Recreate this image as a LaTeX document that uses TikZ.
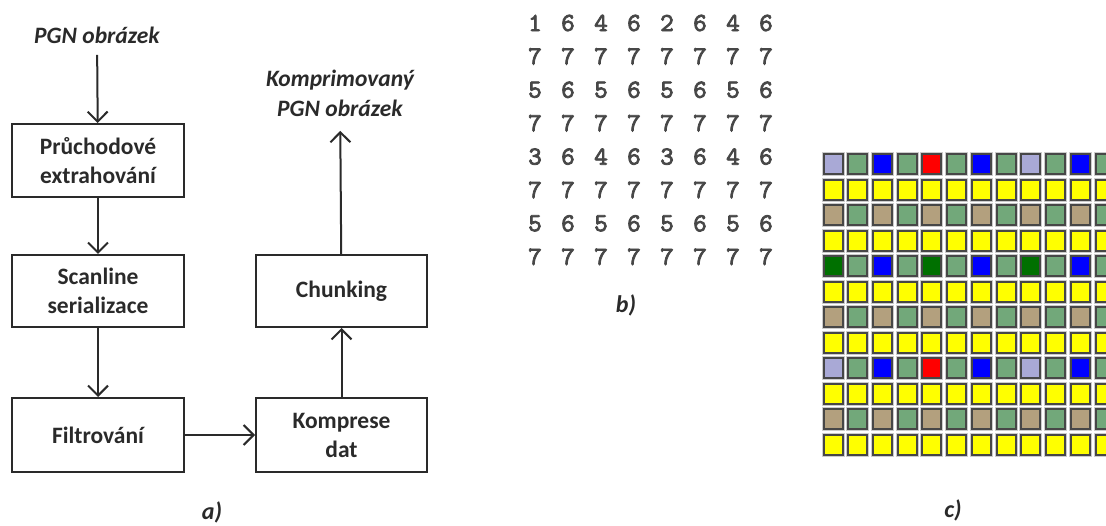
\documentclass[tikz,border=0pt]{standalone}
\usepackage{fontspec}
\setmainfont{Carlito}
\newfontfamily\digitfont[FakeBold=3]{lmmono10-regular.otf}
\usetikzlibrary{arrows.meta}

% palette of the pixel grid, indexed by the pixel value
\definecolor{c1}{HTML}{A9A9D6}
\definecolor{c2}{HTML}{FF0000}
\definecolor{c3}{HTML}{007000}
\definecolor{c4}{HTML}{0000FF}
\definecolor{c5}{HTML}{B3A07E}
\definecolor{c6}{HTML}{72A87A}
\definecolor{c7}{HTML}{FFFF00}
\definecolor{ink}{HTML}{2A2A2A}

\begin{document}
\begin{tikzpicture}[x=1pt,y=-1pt,
  stepbox/.style={draw=ink, line width=2pt, minimum width=172pt, align=center,
    font=\fontsize{23.5}{29}\selectfont\bfseries, text=ink},
  caption/.style={align=center, font=\fontsize{23.5}{30}\selectfont\bfseries\itshape, text=ink},
  flow/.style={draw=ink, line width=2pt,
    -{Straight Barb[length=10pt,width=20pt,line width=2pt]}},
  digit/.style={font=\digitfont\fontsize{26}{26}\selectfont, text=black!72, inner sep=0pt},
  cell/.style={draw=black!72, line width=2pt, minimum width=19pt, minimum height=20pt,
    inner sep=0pt, preaction={draw=black!20, line width=4pt}},
  sublabel/.style={font=\fontsize{24}{24}\selectfont\bfseries\itshape, text=ink}
]
\useasboundingbox (0,0) rectangle (1106,526);
\clip (0,0) rectangle (1106,526);

% ---- a) processing pipeline ----
\node[caption] (src) at (97,35) {PGN obrázek};
\node[stepbox, minimum height=73pt] (b1) at (98,160.5) {Průchodové\\extrahování};
\node[stepbox, minimum height=72pt] (b2) at (98,291) {Scanline\\serializace};
\node[stepbox, minimum height=74pt] (b3) at (98,435) {Filtrování};
\node[stepbox, minimum width=171pt, minimum height=74pt] (b4) at (341.5,435) {Komprese\\dat};
\node[stepbox, minimum width=171pt, minimum height=72pt] (b5) at (341.5,291) {Chunking};
\node[caption] (dst) at (340,93) {Komprimovaný\\PGN obrázek};

\draw[flow, shorten <=8pt] (src) -- (b1);
\draw[flow] (b1) -- (b2);
\draw[flow] (b2) -- (b3);
\draw[flow] (b3) -- (b4);
\draw[flow] (b4) -- (b5);
\draw[flow, shorten >=11pt] (b5) -- (dst);

\node[sublabel] (la) at (212,512) {a)};

% ---- b) pixel values ----
\foreach \row [count=\r] in {{1,6,4,6,2,6,4,6},{7,7,7,7,7,7,7,7},{5,6,5,6,5,6,5,6},{7,7,7,7,7,7,7,7},
                             {3,6,4,6,3,6,4,6},{7,7,7,7,7,7,7,7},{5,6,5,6,5,6,5,6},{7,7,7,7,7,7,7,7}}{
  \foreach \v [count=\c] in \row {
    \node[digit] (d\r-\c) at ({535+33*(\c-1)},{23+33.4*(\r-1)}) {\v};
  }
}
\node[sublabel] (lb) at (626,305) {b)};

% ---- c) pixel grid ----
\foreach \row [count=\r] in {
  {1,6,4,6,2,6,4,6,1,6,4,6},{7,7,7,7,7,7,7,7,7,7,7,7},
  {5,6,5,6,5,6,5,6,5,6,5,6},{7,7,7,7,7,7,7,7,7,7,7,7},
  {3,6,4,6,3,6,4,6,3,6,4,6},{7,7,7,7,7,7,7,7,7,7,7,7},
  {5,6,5,6,5,6,5,6,5,6,5,6},{7,7,7,7,7,7,7,7,7,7,7,7},
  {1,6,4,6,2,6,4,6,1,6,4,6},{7,7,7,7,7,7,7,7,7,7,7,7},
  {5,6,5,6,5,6,5,6,5,6,5,6},{7,7,7,7,7,7,7,7,7,7,7,7}}{
  \foreach \v [count=\c] in \row {
    \node[cell, fill=c\v] (p\r-\c) at ({833+24.73*(\c-1)},{164.5+25.5*(\r-1)}) {};
  }
}
\node[sublabel] (lc) at (953,510) {c)};
\end{tikzpicture}
\end{document}
